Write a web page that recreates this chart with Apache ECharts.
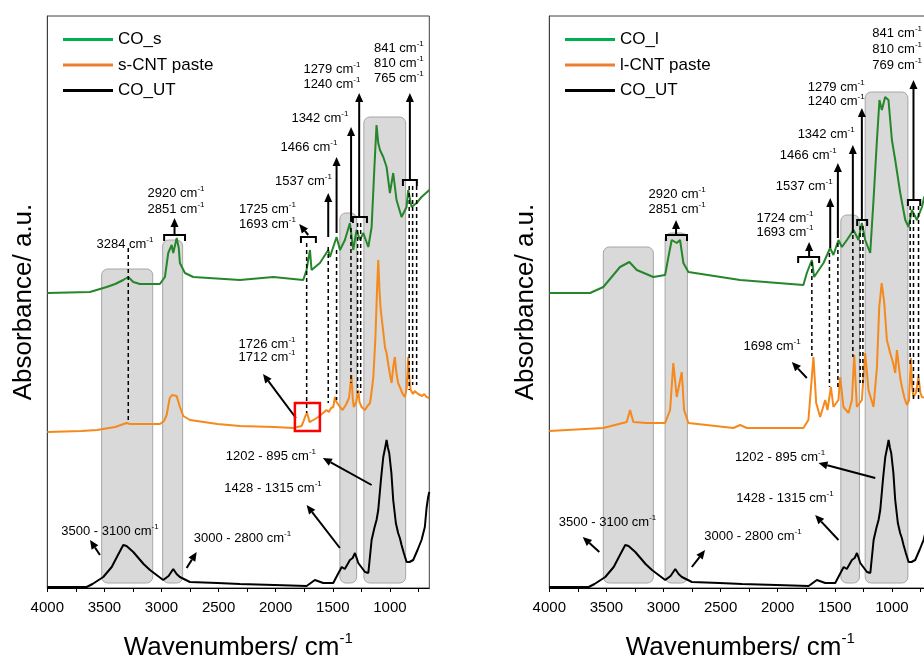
<!DOCTYPE html>
<html>
<head>
<meta charset="utf-8">
<script src="https://cdn.jsdelivr.net/npm/echarts@6/dist/echarts.min.js"></script>
<style>
  html, body { margin: 0; padding: 0; background: #fff; }
  #chart { width: 924px; height: 657px; }
</style>
</head>
<body>
<div id="chart"></div>
<script>
// spectra, [wavenumber, absorbance (offset, a.u.)]
const coUT = [[4000,1],[3803,1],[3655,1],[3604,4],[3510,11],[3436,21],[3386,32],[3335,43],[3306,42],[3291,41],[3247,36],[3157,24],[3101,18],[2985,8],[2938,12],[2897,19],[2868,14],[2839,11],[2751,6],[2510,5],[2313,4],[2012,3],[1729,2],[1657,8],[1584,5],[1496,5],[1455,14],[1422,21],[1395,19],[1378,18],[1350,28],[1326,30],[1306,35],[1291,30],[1277,25],[1218,16],[1189,15],[1160,48],[1136,60],[1117,68],[1102,78],[1077,110],[1058,131],[1042,140],[1029,148],[1017,140],[1006,135],[987,115],[971,88],[948,65],[928,55],[913,50],[898,43],[878,35],[854,26],[828,26],[796,28],[758,38],[723,48],[694,61],[679,80],[665,91],[655,96]];
const sCNT = [[4000,156],[3700,157],[3565,158],[3406,161],[3306,165],[3291,167],[3276,164],[3107,164],[3014,164],[2978,167],[2955,173],[2928,190],[2908,193],[2897,194],[2868,192],[2849,185],[2839,181],[2809,172],[2751,168],[2510,164],[2313,162],[2012,161],[1846,160],[1774,162],[1759,166],[1740,172],[1726,175],[1715,171],[1704,166],[1686,167],[1655,169],[1628,171],[1595,174],[1555,178],[1535,176],[1515,180],[1496,181],[1481,191],[1467,186],[1437,181],[1415,178],[1386,183],[1358,190],[1350,188],[1336,213],[1326,190],[1316,181],[1295,186],[1277,198],[1266,186],[1248,181],[1218,178],[1196,182],[1174,185],[1156,200],[1145,211],[1127,250],[1112,300],[1102,328],[1092,300],[1082,280],[1073,271],[1057,255],[1042,240],[1029,235],[1012,222],[997,212],[985,205],[972,220],[957,231],[943,215],[928,205],[913,201],[888,194],[869,191],[853,200],[840,231],[830,210],[818,198],[798,194],[783,197],[766,195],[753,194],[739,196],[719,192],[699,194],[679,191],[655,190]];
const coS = [[4000,295],[3627,296],[3480,301],[3406,304],[3335,308],[3291,311],[3247,306],[3189,304],[3014,304],[2970,311],[2941,335],[2911,343],[2897,335],[2867,350],[2849,340],[2839,325],[2795,315],[2722,311],[2313,308],[2021,311],[1759,308],[1730,318],[1700,338],[1686,318],[1613,325],[1540,338],[1525,331],[1467,351],[1437,338],[1394,348],[1350,365],[1321,338],[1292,358],[1262,348],[1233,355],[1189,341],[1160,361],[1136,420],[1117,463],[1102,445],[1087,438],[1058,431],[1029,421],[1000,395],[971,415],[942,388],[898,371],[854,381],[840,398],[810,381],[766,385],[723,391],[655,398]];
const lCNT = [[4000,157],[3527,160],[3322,166],[3293,178],[3264,166],[3147,165],[2986,165],[2942,178],[2914,225],[2884,191],[2840,216],[2820,178],[2782,165],[2388,160],[2329,163],[2270,160],[1775,160],[1731,168],[1701,211],[1687,231],[1663,185],[1628,171],[1584,188],[1564,178],[1534,201],[1512,181],[1468,188],[1453,211],[1424,181],[1380,175],[1350,188],[1330,233],[1307,181],[1263,188],[1234,235],[1205,198],[1161,181],[1131,221],[1111,281],[1089,305],[1067,285],[1044,248],[1015,235],[989,225],[971,215],[956,238],[927,210],[912,201],[890,190],[869,183],[850,188],[834,230],[822,200],[811,191],[790,195],[767,211],[750,195],[737,191],[700,190],[655,188]];
const coL = [[4000,295],[3643,295],[3527,301],[3381,321],[3299,326],[3234,318],[3089,311],[2986,313],[2957,331],[2928,348],[2884,345],[2855,348],[2826,325],[2782,316],[2329,308],[1775,303],[1745,315],[1701,328],[1681,311],[1599,325],[1541,340],[1512,333],[1468,348],[1438,341],[1394,348],[1336,358],[1293,348],[1263,365],[1234,348],[1190,335],[1161,388],[1131,448],[1109,488],[1088,478],[1059,491],[1030,488],[1000,448],[971,428],[927,395],[883,368],[854,361],[825,378],[781,368],[737,381],[717,391],[690,395],[655,400]];

// x axis ticks / labels
const tickValues = [750, 1000, 1250, 1500, 1750, 2000, 2250, 2500, 2750, 3000, 3250, 3500, 3750, 4000];
const labelValues = [1000, 1500, 2000, 2500, 3000, 3500, 4000];

// shaded bands [from, to, top, bottom]
const bandsL = [[3524,3077,319,5],[2990,2815,348,5],[1438,1291,375,5],[1228,862,471,5]];
const bandsR = [[3527,3089,341,5],[2986,2791,355,5],[1447,1284,373,5],[1234,860,496,5]];

// dashed guide lines [x, top, bottom]
const dashesL = [[3291,340,166],[1729,345,175],[1540,341,185],[1467,338,188],[1341,360,205],[1283,365,195],[1256,365,195],[831,402,198],[801,402,203],[766,402,203]];
const dashesR = [[1701,326,232],[1547,335,201],[1473,345,198],[1342,353,231],[1278,362,205],[1254,362,205],[840,382,221],[811,382,188],[767,382,188]];

// arrows [x1, y1, x2, y2] tail -> head
const arrowsL = [[2886,353,2886,370],[1715,353,1794,364],[1540,351,1540,395],[1467,355,1467,431],[1340,366,1340,461],[1269,371,1269,495],[825,408,825,495],[1823,170,2111,214],[3539,33,3626,48],[2780,20,2692,36],[1438,40,1729,83],[1160,103,1587,130]];
const arrowsR = [[2890,353,2890,368],[1725,331,1725,346],[1540,340,1540,390],[1473,350,1473,425],[1342,355,1342,443],[1263,368,1263,480],[811,388,811,508],[1745,210,1876,226],[1146,110,1643,125],[1468,48,1672,73],[3562,36,3707,51],[2752,21,2636,38]];

// brackets [x1, x2, y]
const bracketsL = [[2977,2794,353],[1779,1648,351],[1324,1201,371],[886,764,408]];
const bracketsR = [[2978,2794,353],[1821,1637,331],[1304,1217,368],[860,752,388]];

// highlight box [x1, x2, y1, y2]
const boxL = [[1832,1613,185,157]];

// labels [x, y, text]
const labelsL = [
  [3320,345,'3284 cm-1'],
  [2873,396,'2920 cm-1'],[2873,380,'2851 cm-1'],
  [2072,380,'1725 cm-1'],[2072,365,'1693 cm-1'],
  [1757,408,'1537 cm-1'],
  [1709,442,'1466 cm-1'],
  [1613,471,'1342 cm-1'],
  [1508,520,'1279 cm-1'],[1508,505,'1240 cm-1'],
  [921,541,'841 cm-1'],[921,526,'810 cm-1'],[921,511,'765 cm-1'],
  [2076,245,'1726 cm-1'],[2076,232,'1712 cm-1'],
  [2042,133,'1202 - 895 cm-1'],
  [2023,101,'1428 - 1315 cm-1'],
  [3451,58,'3500 - 3100 cm-1'],
  [2291,51,'3000 - 2800 cm-1']
];
const labelsR = [
  [2881,395,'2920 cm-1'],[2881,380,'2851 cm-1'],
  [1937,371,'1724 cm-1'],[1937,357,'1693 cm-1'],
  [1768,403,'1537 cm-1'],
  [1733,434,'1466 cm-1'],
  [1576,455,'1342 cm-1'],
  [1488,502,'1279 cm-1'],[1488,488,'1240 cm-1'],
  [954,556,'841 cm-1'],[954,540,'810 cm-1'],[954,524,'769 cm-1'],
  [2049,243,'1698 cm-1'],
  [1980,132,'1202 - 895 cm-1'],
  [1936,91,'1428 - 1315 cm-1'],
  [3490,67,'3500 - 3100 cm-1'],
  [2217,53,'3000 - 2800 cm-1']
];

const FONT = 'Liberation Sans, Arial, sans-serif';
const GREEN = '#25862a', ORANGE = '#f5891c';

function sup(t) {
  const i = t.lastIndexOf('-1');
  return '{n|' + t.slice(0, i) + '}{s|-1}';
}
const labelRich = {
  n: { fontSize: 13, fontFamily: FONT, color: '#1a1a1a', lineHeight: 15, verticalAlign: 'bottom' },
  s: { fontSize: 8, fontFamily: FONT, color: '#1a1a1a', lineHeight: 8, verticalAlign: 'top' }
};

function bandSeries(i, data) {
  return {
    type: 'custom', xAxisIndex: i, yAxisIndex: i, z: 1, silent: true, data: data,
    renderItem(params, api) {
      const a = api.coord([api.value(0), api.value(2)]);
      const b = api.coord([api.value(1), api.value(3)]);
      return {
        type: 'rect',
        shape: { x: Math.min(a[0], b[0]), y: a[1], width: Math.abs(b[0] - a[0]), height: b[1] - a[1], r: 6 },
        style: { fill: '#d9d9d9', stroke: '#a6a6a6', lineWidth: 1 }
      };
    }
  };
}

function dashSeries(i, data) {
  return {
    type: 'custom', xAxisIndex: i, yAxisIndex: i, z: 5, silent: true, data: data,
    renderItem(params, api) {
      const a = api.coord([api.value(0), api.value(1)]);
      const b = api.coord([api.value(0), api.value(2)]);
      return {
        type: 'line',
        shape: { x1: a[0], y1: a[1], x2: b[0], y2: b[1] },
        style: { stroke: '#000', lineWidth: 1.5, lineDash: [4, 3] }
      };
    }
  };
}

function arrowSeries(i, data) {
  return {
    type: 'custom', xAxisIndex: i, yAxisIndex: i, z: 6, silent: true, data: data,
    renderItem(params, api) {
      const a = api.coord([api.value(0), api.value(1)]);
      const b = api.coord([api.value(2), api.value(3)]);
      const ang = Math.atan2(b[1] - a[1], b[0] - a[0]);
      const L = 9, W = 4;
      const bx = b[0] - L * Math.cos(ang), by = b[1] - L * Math.sin(ang);
      const ox = -Math.sin(ang) * W, oy = Math.cos(ang) * W;
      return {
        type: 'group',
        children: [
          { type: 'line', shape: { x1: a[0], y1: a[1], x2: bx, y2: by }, style: { stroke: '#000', lineWidth: 2 } },
          { type: 'polygon', shape: { points: [[b[0], b[1]], [bx + ox, by + oy], [bx - ox, by - oy]] }, style: { fill: '#000' } }
        ]
      };
    }
  };
}

function bracketSeries(i, data) {
  return {
    type: 'custom', xAxisIndex: i, yAxisIndex: i, z: 6, silent: true, data: data,
    renderItem(params, api) {
      const a = api.coord([api.value(0), api.value(2)]);
      const b = api.coord([api.value(1), api.value(2)]);
      return {
        type: 'polyline',
        shape: { points: [[a[0], a[1] + 6], [a[0], a[1]], [b[0], b[1]], [b[0], b[1] + 6]] },
        style: { stroke: '#000', lineWidth: 2, fill: null }
      };
    }
  };
}

function boxSeries(i, data) {
  return {
    type: 'custom', xAxisIndex: i, yAxisIndex: i, z: 6, silent: true, data: data,
    renderItem(params, api) {
      const a = api.coord([api.value(0), api.value(2)]);
      const b = api.coord([api.value(1), api.value(3)]);
      return {
        type: 'rect',
        shape: { x: a[0], y: a[1], width: b[0] - a[0], height: b[1] - a[1] },
        style: { stroke: '#ff0000', lineWidth: 2.5, fill: null }
      };
    }
  };
}

function labelSeries(i, list) {
  return {
    type: 'custom', xAxisIndex: i, yAxisIndex: i, z: 7, silent: true,
    data: list.map(l => [l[0], l[1]]),
    renderItem(params, api) {
      const p = api.coord([api.value(0), api.value(1)]);
      return {
        type: 'text', x: p[0], y: p[1],
        style: { text: sup(list[params.dataIndex][2]), rich: labelRich, align: 'center', verticalAlign: 'middle' }
      };
    }
  };
}

function lineSeries(i, name, data, color) {
  return {
    name: name, type: 'line', xAxisIndex: i, yAxisIndex: i, z: 3, data: data,
    showSymbol: false, silent: true,
    lineStyle: { color: color, width: 2 }, itemStyle: { color: color }
  };
}

function xAxis(i) {
  return {
    type: 'value', gridIndex: i, inverse: true, min: 655, max: 4000,
    name: '{a|Wavenumbers/ cm}{b|-1}', nameLocation: 'middle', nameGap: 43,
    nameTextStyle: {
      rich: {
        a: { fontSize: 26, fontFamily: FONT, color: '#000', lineHeight: 30, verticalAlign: 'bottom' },
        b: { fontSize: 15, fontFamily: FONT, color: '#000', lineHeight: 15, verticalAlign: 'top' }
      }
    },
    axisLine: { show: true, lineStyle: { color: '#000', width: 1 } },
    axisTick: { show: true, inside: false, length: 4, customValues: tickValues, lineStyle: { color: '#000' } },
    axisLabel: {
      customValues: labelValues, margin: 12, fontSize: 15, fontFamily: FONT, color: '#000',
      formatter: v => String(v)
    },
    splitLine: { show: false }
  };
}

function yAxis(i) {
  return {
    type: 'value', gridIndex: i, min: 0, max: 572,
    name: 'Absorbance/ a.u.', nameLocation: 'middle', nameRotate: 90, nameGap: 10,
    nameTextStyle: { fontSize: 26, fontFamily: FONT, color: '#000' },
    axisLine: { show: true, lineStyle: { color: '#404040', width: 1 } },
    axisTick: { show: false }, axisLabel: { show: false }, splitLine: { show: false }
  };
}

function legend(left, names) {
  return {
    orient: 'vertical', left: left, top: 26, itemWidth: 50, itemHeight: 3, itemGap: 8.5, icon: 'rect',
    selectedMode: false,
    textStyle: { fontSize: 17, fontFamily: FONT, color: '#000' },
    data: [
      { name: names[0], itemStyle: { color: '#00b050' } },
      { name: names[1], itemStyle: { color: '#ed7d31' } },
      { name: names[2], itemStyle: { color: '#000' } }
    ]
  };
}

const chart = echarts.init(document.getElementById('chart'), null, { renderer: 'canvas' });
chart.setOption({
  animation: false,
  backgroundColor: '#fff',
  grid: [
    { left: 47.3, top: 16, width: 382, height: 572, show: true, borderColor: '#404040', borderWidth: 1, containLabel: false, outerBoundsMode: 'none' },
    { left: 549.3, top: 16, width: 382, height: 572, show: true, borderColor: '#404040', borderWidth: 1, containLabel: false, outerBoundsMode: 'none' }
  ],
  xAxis: [xAxis(0), xAxis(1)],
  yAxis: [yAxis(0), yAxis(1)],
  legend: [legend(58, ['CO_s', 's-CNT paste', 'CO_UT']), legend(560, ['CO_l', 'l-CNT paste', 'CO_UT'])],
  series: [
    bandSeries(0, bandsL),
    lineSeries(0, 'CO_s', coS, GREEN),
    lineSeries(0, 's-CNT paste', sCNT, ORANGE),
    lineSeries(0, 'CO_UT', coUT, '#000'),
    dashSeries(0, dashesL),
    arrowSeries(0, arrowsL),
    bracketSeries(0, bracketsL),
    boxSeries(0, boxL),
    labelSeries(0, labelsL),
    bandSeries(1, bandsR),
    lineSeries(1, 'CO_l', coL, GREEN),
    lineSeries(1, 'l-CNT paste', lCNT, ORANGE),
    lineSeries(1, 'CO_UT', coUT, '#000'),
    dashSeries(1, dashesR),
    arrowSeries(1, arrowsR),
    bracketSeries(1, bracketsR),
    labelSeries(1, labelsR)
  ]
});
</script>
</body>
</html>
